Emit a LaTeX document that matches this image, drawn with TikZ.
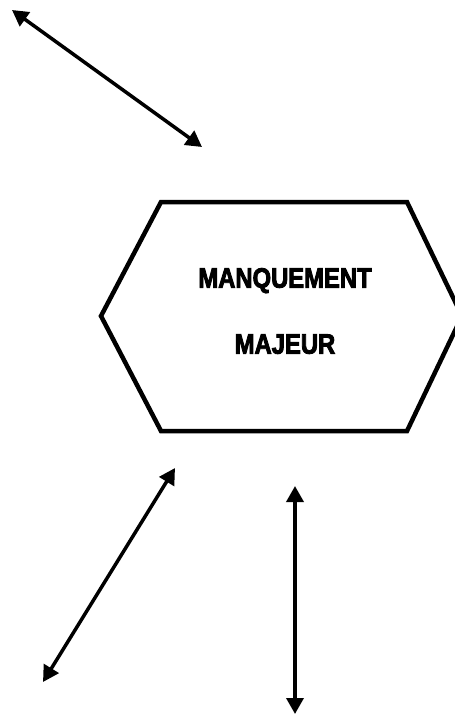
\documentclass[tikz,border=0pt]{standalone}
\usepackage{fontspec}
\newfontfamily\hexfont{Liberation Sans Bold}[FakeStretch=0.85,FakeBold=3]
\usetikzlibrary{arrows.meta}
\begin{document}
\begin{tikzpicture}[x=1pt,y=-1pt,
    dblarrow/.style={line width=3.5pt,{Triangle[length=16pt,width=17pt]}-{Triangle[length=16pt,width=17pt]}},
    hexlabel/.style={font=\hexfont\fontsize{28}{66}\selectfont,align=center}]
    \useasboundingbox (0,0) rectangle (455,715);
    % hexagon
    \coordinate (hexleft) at (101,316);
    \coordinate (hextopleft) at (161,202);
    \coordinate (hextopright) at (407,202);
    \coordinate (hexright) at (462,316);
    \coordinate (hexbotright) at (407,431);
    \coordinate (hexbotleft) at (161,431);
    \draw[line width=4.5pt,line join=miter] (hexleft) -- (hextopleft) -- (hextopright) -- (hexright) -- (hexbotright) -- (hexbotleft) -- cycle;
    \node[hexlabel] (label) at (285,311) {MANQUEMENT\\MAJEUR};
    % arrows
    \coordinate (topA) at (12,10);
    \coordinate (topB) at (202,147);
    \coordinate (leftA) at (175,468);
    \coordinate (leftB) at (43,682);
    \coordinate (downA) at (295,486);
    \coordinate (downB) at (295,714);
    \draw[dblarrow] (topA) -- (topB);
    \draw[dblarrow] (leftA) -- (leftB);
    \draw[dblarrow] (downA) -- (downB);
\end{tikzpicture}
\end{document}
